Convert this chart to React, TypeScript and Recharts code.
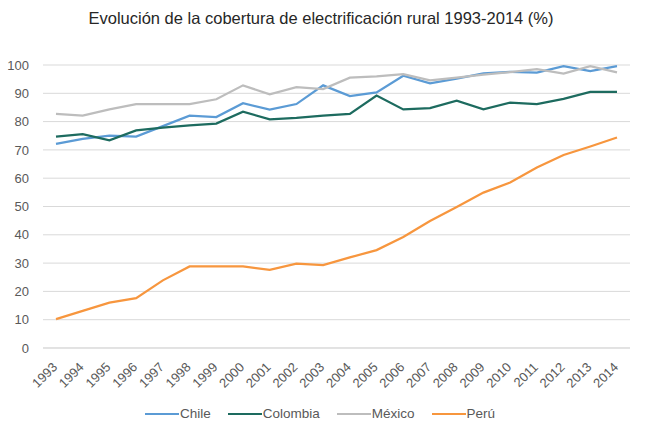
import React from "react";
import { LineChart, Line, XAxis, YAxis, CartesianGrid, Legend } from "recharts";

const years = ["1993","1994","1995","1996","1997","1998","1999","2000","2001","2002","2003","2004","2005","2006","2007","2008","2009","2010","2011","2012","2013","2014"];
const chile = [72.1, 73.9, 75.0, 74.7, 78.4, 82.1, 81.6, 86.5, 84.2, 86.2, 92.8, 89.0, 90.3, 96.2, 93.5, 95.2, 97.0, 97.6, 97.3, 99.6, 97.8, 99.6];
const colombia = [74.7, 75.6, 73.4, 76.9, 77.9, 78.7, 79.3, 83.5, 80.8, 81.3, 82.1, 82.7, 89.2, 84.3, 84.8, 87.4, 84.3, 86.7, 86.2, 88.0, 90.5, 90.5];
const mexico = [82.7, 82.1, 84.3, 86.2, 86.2, 86.2, 87.9, 92.8, 89.6, 92.2, 91.5, 95.5, 96.0, 96.8, 94.6, 95.5, 96.6, 97.5, 98.5, 97.0, 99.6, 97.4];
const peru = [10.2, 13.1, 16.0, 17.6, 23.9, 28.8, 28.8, 28.8, 27.6, 29.8, 29.3, 32.0, 34.6, 39.2, 44.9, 49.8, 54.9, 58.5, 63.8, 68.2, 71.2, 74.4];
const yTicks = [0, 10, 20, 30, 40, 50, 60, 70, 80, 90, 100];
const title = "Evolución de la cobertura de electrificación rural 1993-2014 (%)";

const seriesDefs = [
  { key: "Chile", color: "#5B9BD5" },
  { key: "Colombia", color: "#1D6B5F" },
  { key: "México", color: "#BDBDBD" },
  { key: "Perú", color: "#F7963E" },
];

const data = years.map((y, i) => ({
  year: y,
  Chile: chile[i],
  Colombia: colombia[i],
  "México": mexico[i],
  "Perú": peru[i],
}));

const FONT = "'Liberation Sans', Arial, sans-serif";

const XTick = (props: any) => {
  const { x, y, payload } = props;
  const tx = x + 2;
  const ty = y + 20;
  return (
    <text
      x={tx}
      y={ty}
      textAnchor="end"
      fill="#595959"
      fontSize={13}
      fontFamily={FONT}
      transform={`rotate(-45, ${tx}, ${ty})`}
    >
      {payload.value}
    </text>
  );
};

const LegendContent = (props: any) => {
  const { payload } = props;
  const items = payload || [];
  return (
    <div
      style={{
        height: 30,
        display: "flex",
        justifyContent: "center",
        alignItems: "flex-start",
        fontFamily: FONT,
        fontSize: 13.5,
        color: "#595959",
        lineHeight: "14px",
        paddingLeft: 10,
      }}
    >
      {items.map((p: any, i: number) => (
        <div
          key={p.value}
          style={{ display: "flex", alignItems: "center", marginRight: i < items.length - 1 ? 17 : 0 }}
        >
          <div style={{ width: 34, height: 2, background: p.color, marginRight: 1 }} />
          <span>{p.value}</span>
        </div>
      ))}
    </div>
  );
};

export default function App() {
  return (
    <div style={{ position: "absolute", left: 0, top: 0, width: 646, height: 437, background: "#fff" }}>
      <div
        style={{
          position: "absolute",
          left: -2,
          top: 8,
          width: 646,
          textAlign: "center",
          fontFamily: FONT,
          fontSize: 16.5,
          color: "#262626",
          lineHeight: "20px",
        }}
      >
        {title}
      </div>
      <LineChart width={646} height={437} data={data} margin={{ top: 65, right: 16, left: 0, bottom: 0 }}>
        <CartesianGrid vertical={false} stroke="#D9D9D9" strokeWidth={1} />
        <XAxis
          dataKey="year"
          interval={0}
          tick={<XTick />}
          tickLine={false}
          tickSize={0}
          tickMargin={0}
          axisLine={{ stroke: "#D9D9D9" }}
          height={59}
          padding={{ left: 13, right: 13 }}
        />
        <YAxis
          domain={[0, 100]}
          ticks={yTicks}
          width={43}
          axisLine={false}
          tickLine={false}
          tickSize={0}
          tickMargin={14}
          tick={{ fill: "#595959", fontSize: 13, fontFamily: FONT }}
        />
        <Legend verticalAlign="bottom" content={<LegendContent />} />
        {seriesDefs.map((s) => (
          <Line
            key={s.key}
            type="linear"
            dataKey={s.key}
            stroke={s.color}
            strokeWidth={2.25}
            dot={false}
            activeDot={false}
            isAnimationActive={false}
          />
        ))}
      </LineChart>
    </div>
  );
}
